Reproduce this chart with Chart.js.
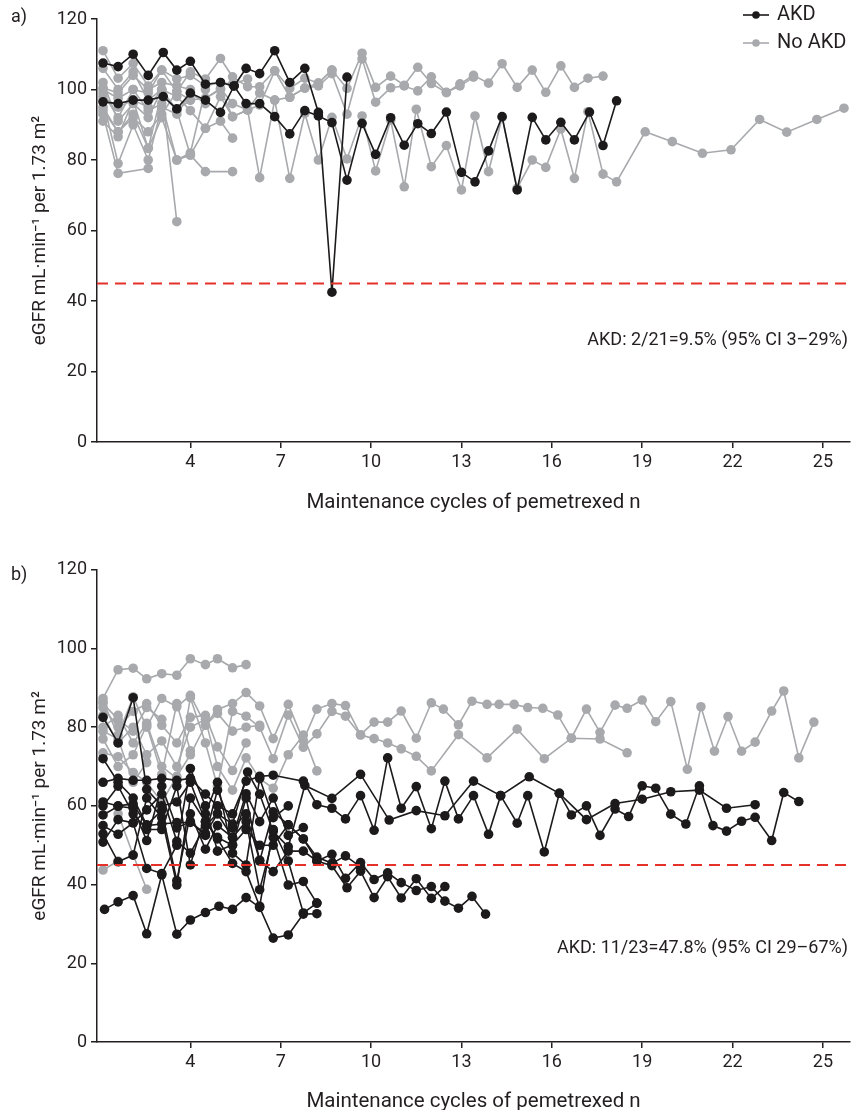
<!DOCTYPE html>
<html>
<head>
<meta charset="utf-8">
<script src="https://cdn.jsdelivr.net/npm/chart.js@4.4.0/dist/chart.umd.min.js"></script>
<style>
	body { margin: 0; background: #fff; width: 856px; height: 1110px; position: relative; overflow: hidden; font-family: Roboto, sans-serif; }
	.panel { position: absolute; left: 0; width: 856px; height: 555px; }
	.tag { position: absolute; left: 11px; font-size: 18px; color: #231f20; }
</style>
</head>
<body>
<div class="panel" style="top:0"><canvas id="chartA"></canvas></div>
<div class="panel" style="top:555px"><canvas id="chartB"></canvas></div>
<div class="tag" style="top:5px">a)</div>
<div class="tag" style="top:563px">b)</div>
<script>
// axis setup
const xMin = 0.9;
const xMax = 25.9;
const xTicks = [4, 7, 10, 13, 16, 19, 22, 25];
const yTicks = [0, 20, 40, 60, 80, 100, 120];
const akdLimit = 45;

// ---- panel a: AKD (black) ----
const aAkd1 = [[1.1,107.5],[1.6,106.5],[2.1,110],[2.6,104],[3.1,110.5],[3.55,105.5],[4,108],[4.5,101.5],[5,102],[5.45,101],[5.85,106],[6.3,104.5],[6.8,111],[7.3,102],[7.8,106],[8.25,93.5],[8.7,42.5],[9.2,103.5]];
const aAkd2 = [[1.1,96.5],[1.6,96],[2.1,97],[2.6,97],[3.1,98],[3.55,94.5],[4,99],[4.5,97],[5,93.5],[5.45,101],[5.85,96],[6.3,96],[6.8,92.3],[7.3,87.4],[7.8,94],[8.25,92.5],[8.7,90.6],[9.2,74.3],[9.7,90.4],[10.15,81.6],[10.65,92],[11.1,84.2],[11.55,90.3],[12,87.5],[12.5,93.6],[13,76.5],[13.45,73.8],[13.9,82.6],[14.35,92.3],[14.85,71.5],[15.35,92.1],[15.8,85.7],[16.3,90.7],[16.75,85.7],[17.25,93.6],[17.7,84.1],[18.15,96.8]];

// ---- panel a: no AKD (grey) ----
const aNo1 = [[1.1,100],[1.6,97.5],[2.1,100],[2.6,99],[3.05,105.5],[3.55,99.4],[4,105],[4.5,103],[5,108.8],[5.4,103.6],[5.9,100.8],[6.3,100.8],[6.8,105.3],[7.3,100.3],[7.8,103.2],[8.25,101.8],[8.7,105.5],[9.2,100.3],[9.7,110.3],[10.15,100.6],[10.65,103.8],[11.1,101.2],[11.55,106.3],[12,101.7],[12.5,99.1],[12.95,101.6],[13.4,104],[13.9,101.8],[14.35,107.3],[14.85,100.6],[15.35,105.5],[15.8,99.2],[16.3,106.7],[16.75,100.6],[17.2,103.2],[17.7,103.8]];
const aNo2 = [[1.1,98],[1.6,95],[2.1,97],[2.6,95],[3.05,99.9],[3.55,94.2],[4,97],[4.5,97.5],[5,100.3],[5.4,96],[5.9,94.2],[6.3,99],[6.8,97],[7.3,97.8],[7.8,100.4],[8.25,101],[8.7,104.5],[9.2,93],[9.7,108.7],[10.15,96.4],[10.65,100.5],[11.1,101],[11.55,99.6],[12,103.6],[12.5,99.2],[12.95,101],[13.4,103.5]];
const aNo3 = [[1.1,94],[1.6,88],[2.1,93],[2.6,83.3],[3.05,92],[3.55,80],[4,81.4],[4.5,89],[5,98],[5.4,92.3],[5.9,94.2],[6.3,75],[6.8,97],[7.3,74.8],[7.8,93.2],[8.25,80],[8.7,92.1],[9.2,80.3],[9.7,92.5],[10.15,76.9],[10.65,91.3],[11.1,72.4],[11.5,94.4],[12,78.1],[12.5,84.1],[13,71.5],[13.45,92.5],[13.9,76.7],[14.35,92.1],[14.85,72],[15.35,80],[15.8,77.9],[16.3,88.8],[16.75,74.8],[17.2,93.7],[17.7,76],[18.15,73.8],[19.1,88],[20,85.2],[21,81.9],[21.95,82.9],[22.9,91.5],[23.8,87.9],[24.8,91.5],[25.7,94.7]];
const aNo4 = [[1.1,111],[1.6,103.2],[2.1,107.4],[2.6,101],[3.05,105.5],[3.55,103],[4,104],[4.5,101],[5,102],[5.4,101.5],[5.9,103]];
const aNo5 = [[1.1,106],[1.6,100],[2.1,105],[2.6,97],[3.05,100],[3.55,98],[4,94],[4.5,89],[5,91],[5.4,86.2]];
const aNo6 = [[1.1,102],[1.6,91],[2.1,96],[2.6,92],[3.05,99.9],[3.55,62.5]];
const aNo7 = [[1.1,97],[1.6,79],[2.1,90],[2.6,80],[3.05,95],[3.55,93],[4,99],[4.5,96]];
const aNo8 = [[1.1,93],[1.6,76.2],[2.6,77.6]];
const aNo9 = [[1.1,91],[1.6,86.6],[2.1,97],[2.6,83.3],[3.05,99],[3.55,94],[4,81.4],[4.5,76.7],[5.4,76.7]];
const aNo10 = [[1.1,99],[1.6,92],[2.1,100],[2.6,94],[3.05,96],[3.55,80],[4,82],[4.5,100]];
const aNo11 = [[1.1,95],[1.6,88],[2.1,92],[2.6,88],[3.05,93],[3.55,99.4],[4,97]];
const aNo12 = [[1.1,100.5],[1.6,99],[2.1,104],[2.6,100],[3.05,102],[3.55,101],[4,100]];
const aNo13 = [[4.5,97.5],[5,100],[5.4,92.3],[5.9,94.2],[6.3,95.6],[6.8,105.3],[7.3,97.8],[7.8,100.4],[8.25,101.8],[8.7,105.5]];

// ---- panel b: AKD (black) ----
const bAkd1 = [[1.1,82.5],[1.6,76],[2.1,87.5],[2.55,64.2],[3.05,60],[3.55,61],[4,66],[4.5,56],[4.9,52],[5.4,50],[5.85,62],[6.3,46],[6.75,58.5],[7.25,55.2],[7.75,51.6],[8.2,46],[8.7,47.7],[9.15,41.6],[9.65,45.6],[10.1,41.3],[10.55,43],[11,40.5],[11.5,38.5],[12,39.5],[12.45,35.8],[12.9,34],[13.35,37],[13.8,32.5]];
const bAkd2 = [[1.1,66],[1.6,67],[2.1,66.5],[2.55,66.5],[3.05,67],[3.55,66.5],[4,67],[4.5,63],[4.9,60],[5.4,58],[5.85,66.3],[6.3,67.5],[6.75,67.8],[7.75,66.3],[8.2,60.3],[8.7,59.4],[9.15,56.7],[9.65,62.6],[10.1,53.8],[10.55,72.2],[11,59.4],[11.5,64.9],[12,54.2],[12.45,66.3],[12.9,56.7],[13.4,62.6],[13.9,52.8],[14.3,62.6],[14.85,55.6],[15.2,62.6],[15.75,48.3],[16.25,63.2],[16.65,57.7],[17.15,60],[17.6,52.5],[18.1,59.2],[18.55,57.3],[19,65.1],[19.45,64.5],[19.95,57.9],[20.45,55.4],[20.9,65.1],[21.35,55],[21.8,53.6],[22.3,56.1],[22.75,57.1],[23.3,51.2],[23.7,63.4],[24.2,61.1]];
const bAkd3 = [[1.1,61],[1.6,60],[2.1,60.5],[2.55,55],[3.05,55.4],[3.55,55.8],[4,55.8],[4.5,53],[4.9,58],[5.4,55.4],[5.9,68.6],[6.3,63],[6.75,53.5],[7.25,49.6],[7.8,65.2],[8.7,61.9],[9.65,68],[10.6,56.4],[11.5,58.8],[12.45,57.5],[13.4,66.3],[14.3,62.6],[15.25,67.4],[16.25,63.2],[17.15,56.5],[18.1,60.6],[19,61.7],[19.95,63.6],[20.9,64],[21.8,59.4],[22.75,60.3]];
const bAkd4 = [[1.1,72],[1.6,66],[2.1,62],[2.55,55.2],[3.05,58.8],[3.55,41],[4,58],[4.5,49],[4.9,55],[5.4,52],[5.85,56],[6.3,38.7],[6.75,52],[7.25,39.9],[7.75,40.8],[8.2,35.3]];
const bAkd5 = [[1.1,57.7],[1.6,59.9],[2.1,59.4],[2.55,51.2],[3.05,65],[3.55,54.4],[4,56],[4.5,52.5],[4.9,64],[5.4,54.4],[5.85,58],[6.3,46.2],[6.75,43.3],[7.25,48.5],[7.75,48.5],[8.2,46],[8.7,44.8],[9.2,39.2],[9.65,43.4],[10.1,36.7],[10.55,42],[11,36.6],[11.5,41.5],[12,36.5],[12.45,39.5]];
const bAkd6 = [[1.1,55],[1.6,52.8],[2.1,55.7],[2.55,44.1],[3.05,42.8],[3.55,50],[4,69.5],[4.5,60],[4.9,48.5],[5.4,50.1],[5.85,54],[6.3,50],[6.75,50],[7.25,55.2],[7.75,51.6],[8.2,47],[8.7,45.4],[9.15,47.3],[9.65,44.5]];
const bAkd7 = [[1.15,33.7],[1.6,35.6],[2.1,37.2],[2.55,27.5],[3.05,42.5],[3.55,27.4],[4,31],[4.5,32.9],[4.95,34.5],[5.4,33.7],[5.85,36.7],[6.3,34.2],[6.75,26.4],[7.25,27.2],[7.75,32.5],[8.2,32.6]];
const bAkd8 = [[1.1,52.9],[1.6,45.8],[2.1,47.5],[2.55,62],[3.05,57],[3.55,39.9],[4,62],[4.5,56],[4.9,51.6],[5.4,45.4],[5.85,43.3],[6.3,34.5],[6.75,54],[7.25,46],[7.75,32.8],[8.2,35.3]];
const bAkd9 = [[1.1,50.8],[1.6,56.5],[2.1,55.7],[2.55,59],[3.05,63],[3.55,51],[4,48],[4.5,55],[4.9,58],[5.4,52],[5.85,63.1],[6.3,56],[6.75,62],[7.25,52.5],[7.75,54.5]];
const bAkd10 = [[1.1,60],[1.6,65],[2.1,58],[2.55,54],[3.05,54],[3.55,65],[4,45],[4.5,58],[4.9,66],[5.4,48],[5.85,45],[6.3,67],[6.75,57],[7.25,60]];

// ---- panel b: no AKD (grey) ----
const bNo1 = [[1.1,87.3],[1.6,94.6],[2.1,95],[2.55,92.3],[3.05,93.6],[3.55,93.2],[4,97.4],[4.5,95.9],[4.9,97.4],[5.4,95.1],[5.85,95.9]];
const bNo2 = [[1.1,86.5],[1.6,78],[2.1,87.7],[2.55,80],[3.05,87.3],[3.55,85.2],[4,88.1],[4.5,80.6],[4.9,84.5],[5.4,86],[5.85,88.8],[6.3,85.4],[6.75,77.1],[7.25,85.8],[7.75,76.6],[8.2,84.6],[8.7,86],[9.15,85.5],[9.65,78.1],[10.1,81.3],[10.55,81.3],[11,84.1],[11.5,77.2],[12,86.2],[12.4,84.6],[12.9,80.6],[13.35,86.6],[13.85,85.8],[14.25,85.8],[14.75,85.8],[15.2,85],[15.7,84.8],[16.2,83.1],[16.65,77.2],[17.15,84.6],[17.6,78.7],[18.1,85.6],[18.5,84.8],[19,86.9],[19.45,81.4],[19.95,86.5],[20.5,69.3],[20.95,85.2],[21.4,73.9],[21.85,82.7],[22.3,73.9],[22.75,76.2],[23.3,84.1],[23.7,89.2],[24.2,72.2],[24.7,81.3]];
const bNo3 = [[1.1,80],[1.6,83],[2.1,76],[2.55,81],[3.05,70],[3.55,67],[4,87.5],[4.5,76],[4.9,65],[5.4,84],[5.85,82.8],[6.3,80],[6.75,72],[7.25,83.1],[7.75,74.9],[8.2,78.3],[8.7,84],[9.15,82.8],[9.65,78],[10.1,77.1],[10.55,76],[11,74.5],[11.5,72.6],[12,68.9],[12.9,78.1],[13.85,72.2],[14.85,79.5],[15.75,72],[16.65,77.2],[17.6,77],[18.5,73.5]];
const bNo4 = [[1.1,83],[1.6,76],[2.1,80],[2.55,73],[3.05,76.5],[3.55,70],[4,80],[4.5,82],[4.9,70],[5.4,64],[5.85,72.2],[6.3,66.9],[6.75,64.5],[7.25,73],[7.75,78],[8.2,68.9]];
const bNo5 = [[1.1,73.5],[1.6,72.5],[2.1,68.5],[2.55,66],[3.05,61],[3.55,67.5],[4,73],[4.5,80.5],[4.9,83.5],[5.4,79],[5.85,80],[6.3,80.5]];
const bNo6 = [[1.1,85],[1.6,80],[2.1,84],[2.55,86],[3.05,80.5],[3.55,76],[4,82.5],[4.5,83],[4.9,75],[5.4,69],[5.85,76]];
const bNo7 = [[1.1,43.7],[1.6,46]];
const bNo8 = [[1.6,58],[2.1,47.5],[2.55,38.8]];
const bNo9 = [[1.1,77],[1.6,70],[2.1,73],[2.55,80.5],[3.05,68],[3.55,86],[4,74]];
const bNo10 = [[1.1,86],[1.6,82],[2.1,79],[2.55,85],[3.05,82]];
const bNo11 = [[1.1,79],[1.6,77],[2.1,66],[2.55,71]];

const black = "#1c1a1b";
const grey = "#a7a9ac";
const ink = "#231f20";
const red = "#e4322b";

function lineSet(data, color, order) {
	return {
		data: data,
		borderColor: color,
		backgroundColor: color,
		borderWidth: 1.6,
		pointRadius: 4.8,
		pointBorderWidth: 0,
		pointBackgroundColor: color,
		order: order,
	};
}

// note text + optional legend
let extras = {
	id: "extras",
	afterDatasetsDraw(chart, args, opts) {
		let ctx = chart.ctx;
		let area = chart.chartArea;
		ctx.save();
		ctx.fillStyle = ink;
		ctx.font = "18px Roboto";
		ctx.textAlign = "right";
		ctx.textBaseline = "middle";
		ctx.fillText(opts.note, area.right - 2, area.bottom - opts.noteUp);
		if (opts.legend) {
			let rows = [["AKD", black, 15], ["No AKD", grey, 43]];
			rows.forEach(function (r) {
				ctx.strokeStyle = r[1];
				ctx.fillStyle = r[1];
				ctx.lineWidth = 1.6;
				ctx.beginPath();
				ctx.moveTo(743, r[2]);
				ctx.lineTo(769, r[2]);
				ctx.stroke();
				ctx.beginPath();
				ctx.arc(756, r[2], 3.8, 0, Math.PI * 2);
				ctx.fill();
				ctx.fillStyle = ink;
				ctx.textAlign = "left";
				ctx.font = "20px Roboto";
				ctx.fillText(r[0], 777, r[2]);
			});
		}
		ctx.restore();
	},
};

function makeChart(id, akd, noAkd, cfg) {
	let sets = [];
	noAkd.forEach(function (s) { sets.push(lineSet(s, grey, 2)); });
	akd.forEach(function (s) { sets.push(lineSet(s, black, 1)); });
	sets.push({
		data: [[xMin, akdLimit], [xMax, akdLimit]],
		borderColor: red,
		borderWidth: 2,
		borderDash: [11, 7],
		pointRadius: 0,
		order: 0,
	});
	let font = { family: "Roboto", size: 18 };
	return new Chart(document.getElementById(id), {
		type: "line",
		data: { datasets: sets },
		plugins: [extras],
		options: {
			responsive: true,
			maintainAspectRatio: false,
			animation: false,
			devicePixelRatio: 1,
			layout: { padding: { top: cfg.padTop, right: 6, left: 0, bottom: 0 } },
			plugins: {
				legend: { display: false },
				tooltip: { enabled: false },
				extras: { note: cfg.note, noteUp: cfg.noteUp, legend: cfg.legend },
			},
			scales: {
				x: {
					type: "linear",
					min: xMin,
					max: xMax,
					afterBuildTicks: function (s) { s.ticks = xTicks.map(function (v) { return { value: v }; }); },
					afterFit: function (s) { s.height = cfg.xHeight; },
					ticks: { font: font, color: ink, padding: 4 },
					grid: { drawOnChartArea: false, drawTicks: true, tickLength: 6, color: ink, lineWidth: 1.5 },
					border: { display: true, color: ink, width: 1.5 },
					title: { display: true, text: "Maintenance cycles of pemetrexed n", font: { family: "Roboto", size: 20.5 }, color: ink, padding: { top: 0, bottom: cfg.xTitlePad } },
				},
				y: {
					min: 0,
					max: 120,
					afterBuildTicks: function (s) { s.ticks = yTicks.map(function (v) { return { value: v }; }); },
					afterFit: function (s) { s.width = 97; },
					ticks: { font: font, color: ink, padding: 4 },
					grid: { drawOnChartArea: false, drawTicks: true, tickLength: 6, color: ink, lineWidth: 1.5 },
					border: { display: true, color: ink, width: 1.5 },
					title: { display: true, text: "eGFR mL·min⁻¹ per 1.73 m²", font: { family: "Roboto", size: 19 }, color: ink, padding: { top: 29, bottom: 0 } },
				},
			},
		},
	});
}

let chartA = makeChart("chartA",
	[aAkd1, aAkd2],
	[aNo1, aNo2, aNo3, aNo4, aNo5, aNo6, aNo7, aNo8, aNo9, aNo10, aNo11, aNo12, aNo13],
	{ padTop: 19, xHeight: 113, xTitlePad: 40, note: "AKD: 2/21=9.5% (95% CI 3–29%)", noteUp: 102, legend: true });

let chartB = makeChart("chartB",
	[bAkd1, bAkd2, bAkd3, bAkd4, bAkd5, bAkd6, bAkd7, bAkd8, bAkd9, bAkd10],
	[bNo1, bNo2, bNo3, bNo4, bNo5, bNo6, bNo7, bNo8, bNo9, bNo10, bNo11],
	{ padTop: 10, xHeight: 68, xTitlePad: -4, note: "AKD: 11/23=47.8% (95% CI 29–67%)", noteUp: 94, legend: false });
</script>
</body>
</html>
